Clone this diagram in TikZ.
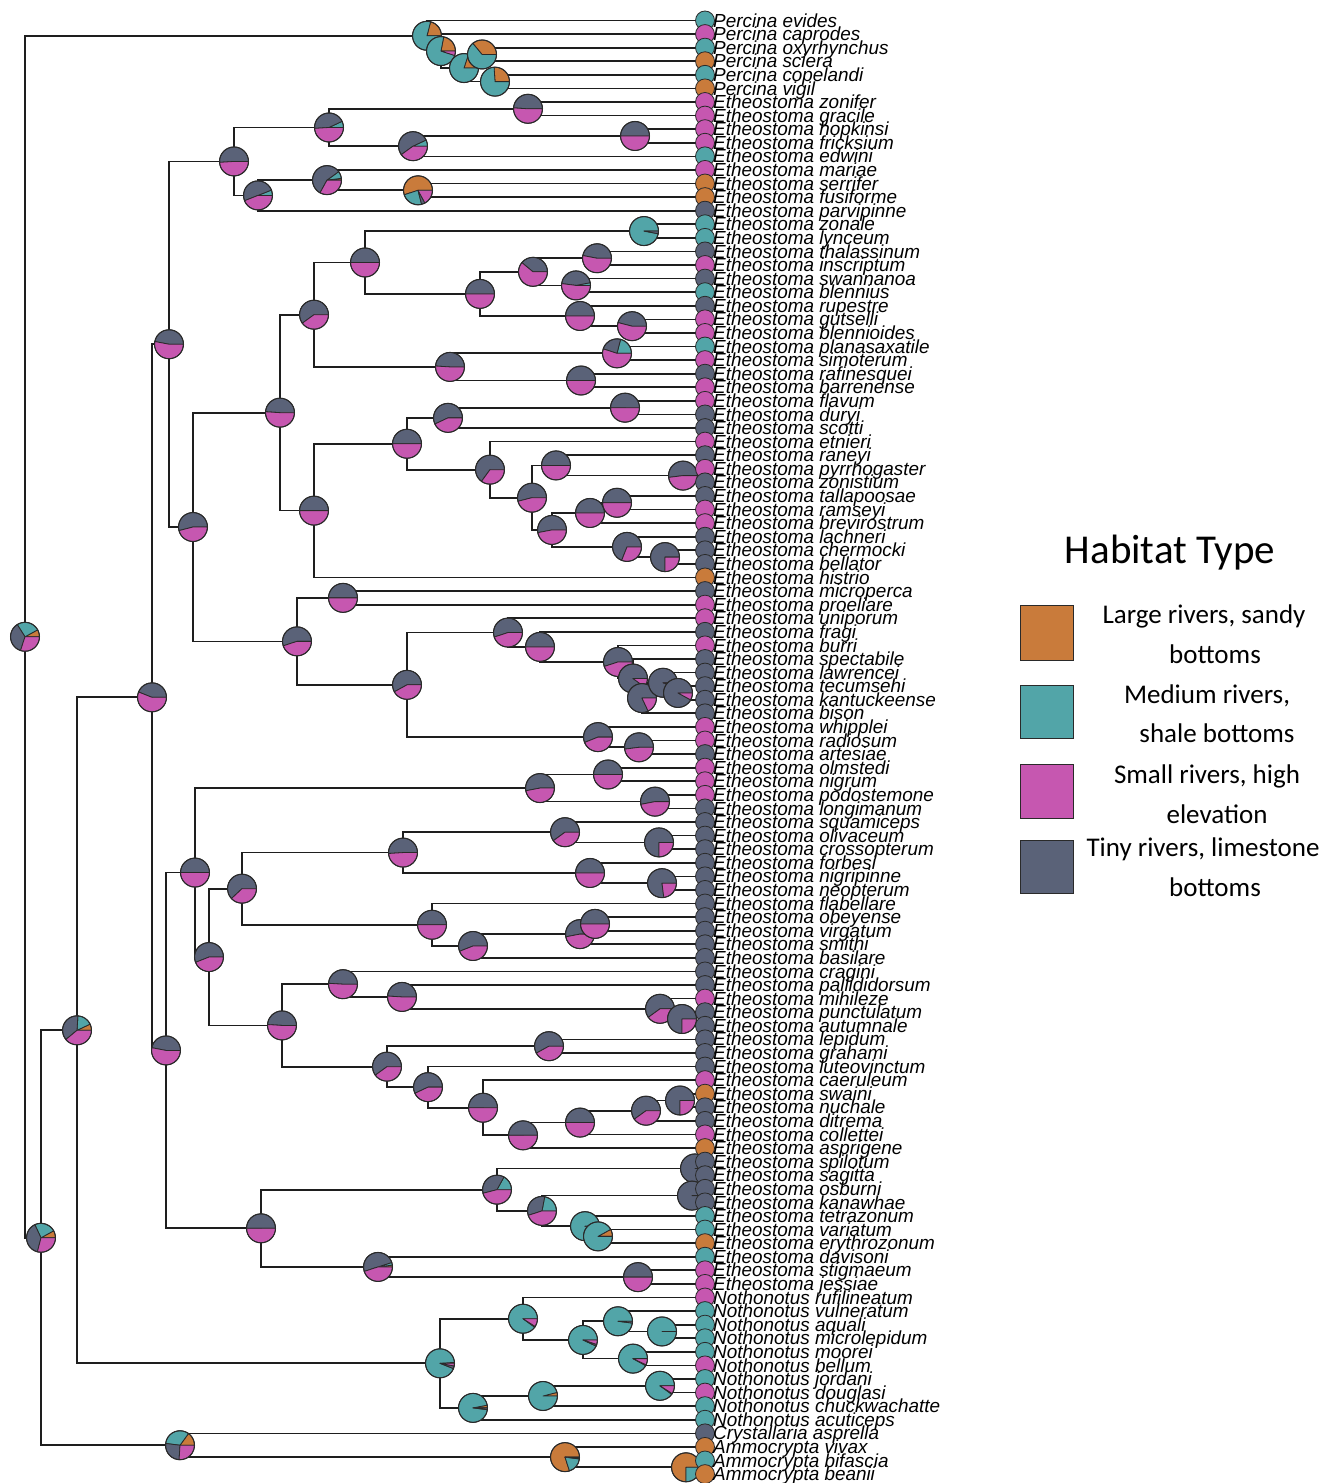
\documentclass[tikz,border=0pt]{standalone}
\usepackage{fontspec}
\setmainfont{Liberation Sans}
\newfontfamily\legfont{Carlito}
\definecolor{cO}{HTML}{C97B3B}
\definecolor{cT}{HTML}{52A5A8}
\definecolor{cM}{HTML}{C657B0}
\definecolor{cS}{HTML}{5A6278}
\definecolor{pieline}{HTML}{2A2A2A}
\definecolor{brc}{HTML}{1E1E1E}
\tikzset{branch/.style={draw=brc, line width=1.7pt},
  tiplab/.style={anchor=base west, inner sep=0pt, font=\fontsize{18.9}{20}\selectfont\itshape},
  legtext/.style={inner sep=0pt, font=\legfont\fontsize{27}{32}\selectfont},
  swatch/.style={draw=pieline, line width=1pt}}
\newcommand\br[4]{%
  \path (#3) -- (#4) coordinate[pos=0.5] (#1-mid);
  \coordinate (#1) at (#2,0 |- #1-mid);
  \draw[branch] (#3) -| (#1) |- (#4);}
\newcommand\slice[5]{\filldraw[fill=#5, draw=pieline, line width=0.8pt, line join=round] (#1) -- ++(#3:#2pt) arc[start angle=#3, end angle=#4, radius=#2pt] -- cycle;}
\newcommand\piechart[5]{%
  \pgfmathsetmacro\pieA{3.6*#3}%
  \pgfmathsetmacro\pieB{\pieA+3.6*#4}%
  \pgfmathsetmacro\pieC{\pieB+3.6*#5}%
  \ifdim #3pt>0pt \slice{#1}{#2}{0}{\pieA}{cO}\fi
  \ifdim #4pt>0pt \slice{#1}{#2}{\pieA}{\pieB}{cT}\fi
  \ifdim #5pt>0pt \slice{#1}{#2}{\pieB}{\pieC}{cS}\fi
  \ifdim \pieC pt<359.9pt \slice{#1}{#2}{\pieC}{360}{cM}\fi
  \draw[pieline, line width=1pt] (#1) circle[radius=#2pt];}
\newcommand\pp[4]{\piechart{#1}{14.5}{#2}{#3}{#4}}
\begin{document}
\begin{tikzpicture}[x=1pt,y=-1pt]
\useasboundingbox (0,0) rectangle (1329,1483);
\fill[white] (0,0) rectangle (1329,1483);
% tips
\foreach \ti in {1,...,108}{\coordinate (t\ti) at (705,{20.5+(\ti-1)*13.585});}
% Percina
\br{p3}{482}{t3}{t4}
\br{p4}{495}{t5}{t6}
\br{p2}{464}{p3}{p4}
\br{p1}{441}{t2}{p2}
\br{p0}{427}{t1}{p1}
% G / H
\br{g1}{528}{t7}{t8}
\br{g2}{635}{t9}{t10}
\br{g3}{413}{g2}{t11}
\br{g}{329}{g1}{g3}
\br{h2}{418}{t13}{t14}
\br{h1}{327}{t12}{h2}
\br{h}{258}{h1}{t15}
\br{f}{234}{g}{h}
% L / K
\br{l1}{644}{t16}{t17}
\br{n1}{597}{t18}{t19}
\br{n2}{576}{t20}{t21}
\br{n}{533}{n1}{n2}
\br{o1}{632}{t23}{t24}
\br{o}{580}{t22}{o1}
\br{m}{480}{n}{o}
\br{l}{365}{l1}{m}
\br{p5}{617}{t25}{t26}
\br{p6}{581}{t27}{t28}
\br{pp}{450}{p5}{p6}
\br{k}{314}{l}{pp}
% R / Q
\br{r1}{625}{t29}{t30}
\br{r2}{448}{r1}{t31}
\br{s1}{683}{t34}{t35}
\br{s2}{556}{t33}{s1}
\br{s3}{617}{t36}{t37}
\br{s4}{590}{s3}{t38}
\br{s5}{665}{t40}{t41}
\br{s6}{627}{t39}{s5}
\br{s7}{552}{s4}{s6}
\br{tt}{532}{s2}{s7}
\br{s}{490}{t32}{tt}
\br{r}{407}{r2}{s}
\br{q}{314}{r}{t42}
\br{j}{280}{k}{q}
% U
\br{u1}{343}{t43}{t44}
\br{z1}{678}{t50}{t51}
\br{z2}{663}{t49}{z1}
\br{z3}{642}{z2}{t52}
\br{z4}{633}{t48}{z3}
\br{yy}{618}{t47}{z4}
\br{xx}{540}{t46}{yy}
\br{w}{508}{t45}{xx}
\br{v1}{639}{t54}{t55}
\br{v2}{598}{t53}{v1}
\br{v}{407}{w}{v2}
\br{u}{297}{u1}{v}
\br{i}{193}{j}{u}
\br{d}{169}{f}{i}
% E
\br{e2a}{608}{t56}{t57}
\br{e2b}{655}{t58}{t59}
\br{e2}{540}{e2a}{e2b}
\br{e4a}{659}{t61}{t62}
\br{e4b}{565}{t60}{e4a}
\br{e4c}{662}{t64}{t65}
\br{e4d}{590}{t63}{e4c}
\br{e4e}{403}{e4b}{e4d}
\br{e4f}{595}{t67}{t68}
\br{e4g}{580}{e4f}{t69}
\br{e4h}{473}{e4g}{t70}
\br{e4i}{432}{t66}{e4h}
\br{e4}{242}{e4e}{e4i}
\br{e5a}{682}{t74}{t75}
\br{e5b}{660}{t73}{e5a}
\br{e5c}{402}{t72}{e5b}
\br{e5d}{343}{t71}{e5c}
\br{e5e}{549}{t76}{t77}
\br{e5f}{680}{t80}{t81}
\br{e5g}{646}{e5f}{t82}
\br{e5h}{580}{e5g}{t83}
\br{e5i}{523}{e5h}{t84}
\br{e5j}{483}{t79}{e5i}
\br{e5k}{428}{t78}{e5j}
\br{e5l}{387}{e5e}{e5k}
\br{e5}{282}{e5d}{e5l}
\br{e3}{209}{e4}{e5}
\br{e1}{195}{e2}{e3}
\br{e6a}{695}{t85}{t86}
\br{e6b}{692}{t87}{t88}
\br{e6c}{598}{t90}{t91}
\br{e6d}{585}{t89}{e6c}
\br{e6e}{542}{e6b}{e6d}
\br{e6f}{497}{e6a}{e6e}
\br{e6g}{638}{t93}{t94}
\br{e6h}{378}{t92}{e6g}
\br{e6}{261}{e6f}{e6h}
\br{e}{166}{e1}{e6}
\br{c}{152}{d}{e}
% Nothonotus
\br{n5}{662}{t97}{t98}
\br{n3}{618}{t96}{n5}
\br{n4}{633}{t99}{t100}
\br{nn2}{583}{n3}{n4}
\br{nn1}{523}{t95}{nn2}
\br{n8}{660}{t101}{t102}
\br{n7}{543}{n8}{t103}
\br{n6}{473}{n7}{t104}
\br{no}{440}{nn1}{n6}
\br{b}{77}{c}{no}
% Ammocrypta
\br{a3}{686}{t107}{t108}
\br{a2}{565}{t106}{a3}
\br{a1}{180}{t105}{a2}
\br{rb}{41}{b}{a1}
\br{root}{25}{p0}{rb}
% pies (parents first)
\pp{root}{8}{26}{36}
\pp{p0}{21}{79}{0}
\pp{p1}{22}{73}{0}
\pp{p2}{20}{80}{0}
\pp{p3}{36}{64}{0}
\pp{p4}{26}{74}{0}
\pp{rb}{8}{24}{39}
\pp{b}{7}{17}{37}
\pp{c}{0}{0}{44}
\pp{d}{0}{0}{47}
\pp{f}{0}{0}{51}
\pp{g}{0}{7}{44}
\pp{g1}{0}{0}{49}
\pp{g3}{0}{7}{53}
\pp{g2}{0}{0}{50}
\pp{h}{0}{6}{50}
\pp{h1}{2}{8}{57}
\pp{h2}{55}{24}{4}
\pp{i}{0}{0}{54}
\pp{j}{0}{0}{49}
\pp{k}{0}{0}{60}
\pp{l}{0}{0}{50}
\pp{l1}{0}{97}{3}
\pp{m}{0}{0}{50}
\pp{n}{0}{0}{39}
\pp{n1}{0}{0}{47}
\pp{n2}{0}{3}{45}
\pp{o}{0}{0}{50}
\pp{o1}{0}{0}{46}
\pp{pp}{0}{0}{49}
\pp{p5}{0}{21}{24}
\pp{p6}{0}{0}{50}
\pp{q}{0}{0}{50}
\pp{r}{0}{0}{50}
\pp{r2}{0}{0}{57}
\pp{r1}{0}{0}{50}
\pp{s}{0}{0}{65}
\pp{tt}{0}{0}{54}
\pp{s2}{0}{0}{50}
\pp{s1}{0}{0}{52}
\pp{s7}{0}{0}{53}
\pp{s4}{0}{0}{50}
\pp{s3}{0}{0}{50}
\pp{s6}{0}{0}{69}
\pp{s5}{0}{0}{75}
\pp{u}{0}{0}{55}
\pp{u1}{0}{0}{50}
\pp{v}{0}{0}{58}
\pp{w}{0}{0}{55}
\pp{xx}{0}{0}{50}
\pp{yy}{0}{0}{55}
\pp{z4}{0}{0}{90}
\pp{z3}{0}{0}{82}
\pp{z2}{0}{0}{95}
\pp{z1}{0}{0}{92}
\pp{v2}{0}{0}{56}
\pp{v1}{0}{0}{52}
\pp{e}{0}{0}{47}
\pp{e1}{0}{0}{50}
\pp{e2}{0}{0}{53}
\pp{e2a}{0}{0}{50}
\pp{e2b}{0}{0}{53}
\pp{e3}{0}{0}{56}
\pp{e4}{0}{0}{62}
\pp{e4e}{0}{0}{51}
\pp{e4b}{0}{0}{60}
\pp{e4a}{0}{0}{75}
\pp{e4d}{0}{0}{50}
\pp{e4c}{0}{0}{77}
\pp{e4i}{0}{0}{50}
\pp{e4h}{0}{0}{56}
\pp{e4g}{0}{0}{53}
\pp{e4f}{0}{0}{50}
\pp{e5}{0}{0}{49}
\pp{e5d}{0}{0}{49}
\pp{e5c}{0}{0}{49}
\pp{e5b}{0}{0}{60}
\pp{e5a}{0}{0}{75}
\pp{e5l}{0}{0}{60}
\pp{e5e}{0}{0}{58}
\pp{e5k}{0}{0}{57}
\pp{e5j}{0}{0}{50}
\pp{e5i}{0}{0}{50}
\pp{e5h}{0}{0}{50}
\pp{e5g}{0}{0}{60}
\pp{e5f}{0}{0}{75}
\pp{e6}{0}{0}{50}
\pp{e6f}{0}{17}{37}
\pp{e6a}{0}{0}{100}
\pp{e6e}{0}{22}{33}
\pp{e6b}{0}{0}{100}
\pp{e6d}{0}{98}{1}
\pp{e6c}{8}{92}{0}
\pp{e6h}{2}{3}{50}
\pp{e6g}{0}{0}{50}
\pp{no}{1}{93}{3}
\pp{nn1}{0}{90}{1}
\pp{nn2}{0}{93}{2}
\pp{n3}{0}{98}{2}
\pp{n5}{0}{100}{0}
\pp{n4}{0}{92}{1}
\pp{n6}{3}{95}{2}
\pp{n7}{4}{96}{0}
\pp{n8}{0}{90}{1}
\pp{a1}{15}{33}{26}
\pp{a2}{80}{18}{1}
\pp{a3}{75}{25}{0}
% tip circles
\foreach \ti/\tc in {1/T,2/M,3/T,4/O,5/T,6/O,7/M,8/M,9/M,10/M,11/T,12/M,13/O,14/O,15/S,16/T,17/T,18/S,19/M,20/S,21/T,22/S,23/M,24/M,25/T,26/M,27/S,28/M,29/M,30/S,31/S,32/M,33/S,34/M,35/S,36/S,37/M,38/M,39/S,40/S,41/S,42/O,43/S,44/M,45/M,46/S,47/M,48/S,49/S,50/S,51/S,52/S,53/M,54/M,55/S,56/M,57/M,58/M,59/S,60/S,61/S,62/S,63/S,64/S,65/S,66/S,67/S,68/S,69/S,70/S,71/S,72/S,73/M,74/S,75/S,76/S,77/S,78/S,79/M,80/O,81/S,82/S,83/M,84/O,85/S,86/S,87/S,88/S,89/T,90/T,91/O,92/T,93/M,94/M,95/M,96/T,97/T,98/T,99/T,100/M,101/T,102/M,103/T,104/T,105/S,106/O,107/T,108/O}{
  \filldraw[fill=c\tc, draw=pieline, line width=0.8pt] (t\ti) circle[radius=9.5pt];
}
% tip labels
\foreach \ti/\tn in {1/Percina evides,2/Percina caprodes,3/Percina oxyrhynchus,4/Percina sciera,5/Percina copelandi,6/Percina vigil,7/Etheostoma zonifer,8/Etheostoma gracile,9/Etheostoma hopkinsi,10/Etheostoma fricksium,11/Etheostoma edwini,12/Etheostoma mariae,13/Etheostoma serrifer,14/Etheostoma fusiforme,15/Etheostoma parvipinne,16/Etheostoma zonale,17/Etheostoma lynceum,18/Etheostoma thalassinum,19/Etheostoma inscriptum,20/Etheostoma swannanoa,21/Etheostoma blennius,22/Etheostoma rupestre,23/Etheostoma gutselli,24/Etheostoma blennioides,25/Etheostoma planasaxatile,26/Etheostoma simoterum,27/Etheostoma rafinesquei,28/Etheostoma barrenense,29/Etheostoma flavum,30/Etheostoma duryi,31/Etheostoma scotti,32/Etheostoma etnieri,33/Etheostoma raneyi,34/Etheostoma pyrrhogaster,35/Etheostoma zonistium,36/Etheostoma tallapoosae,37/Etheostoma ramseyi,38/Etheostoma brevirostrum,39/Etheostoma lachneri,40/Etheostoma chermocki,41/Etheostoma bellator,42/Etheostoma histrio,43/Etheostoma microperca,44/Etheostoma proeliare,45/Etheostoma uniporum,46/Etheostoma fragi,47/Etheostoma burri,48/Etheostoma spectabile,49/Etheostoma lawrencei,50/Etheostoma tecumsehi,51/Etheostoma kantuckeense,52/Etheostoma bison,53/Etheostoma whipplei,54/Etheostoma radiosum,55/Etheostoma artesiae,56/Etheostoma olmstedi,57/Etheostoma nigrum,58/Etheostoma podostemone,59/Etheostoma longimanum,60/Etheostoma squamiceps,61/Etheostoma olivaceum,62/Etheostoma crossopterum,63/Etheostoma forbesi,64/Etheostoma nigripinne,65/Etheostoma neopterum,66/Etheostoma flabellare,67/Etheostoma obeyense,68/Etheostoma virgatum,69/Etheostoma smithi,70/Etheostoma basilare,71/Etheostoma cragini,72/Etheostoma pallididorsum,73/Etheostoma mihileze,74/Etheostoma punctulatum,75/Etheostoma autumnale,76/Etheostoma lepidum,77/Etheostoma grahami,78/Etheostoma luteovinctum,79/Etheostoma caeruleum,80/Etheostoma swaini,81/Etheostoma nuchale,82/Etheostoma ditrema,83/Etheostoma collettei,84/Etheostoma asprigene,85/Etheostoma spilotum,86/Etheostoma sagitta,87/Etheostoma osburni,88/Etheostoma kanawhae,89/Etheostoma tetrazonum,90/Etheostoma variatum,91/Etheostoma erythrozonum,92/Etheostoma davisoni,93/Etheostoma stigmaeum,94/Etheostoma jessiae,95/Nothonotus rufilineatum,96/Nothonotus vulneratum,97/Nothonotus aquali,98/Nothonotus microlepidum,99/Nothonotus moorei,100/Nothonotus bellum,101/Nothonotus jordani,102/Nothonotus douglasi,103/Nothonotus chuckwachatte,104/Nothonotus acuticeps,105/Crystallaria asprella,106/Ammocrypta vivax,107/Ammocrypta bifascia,108/Ammocrypta beanii}{
  \node[tiplab] (lab\ti) at (713,{20.5+(\ti-1)*13.585+6.6}) {\tn};
}
% legend
\node[inner sep=0pt, font=\legfont\fontsize{41}{48}\selectfont] (legtitle) at (1170,553) {Habitat Type};
\filldraw[fill=cO, swatch] (1020,605) rectangle (1073,660);
\filldraw[fill=cT, swatch] (1020,685) rectangle (1073,738);
\filldraw[fill=cM, swatch] (1020,764) rectangle (1073,818);
\filldraw[fill=cS, swatch] (1020,840) rectangle (1073,893);
\node[legtext] (lg1a) at (1204,616) {Large rivers, sandy};
\node[legtext] (lg1b) at (1215,654) {bottoms};
\node[legtext] (lg2a) at (1207,696) {Medium rivers,};
\node[legtext] (lg2b) at (1217,733) {shale bottoms};
\node[legtext] (lg3a) at (1207,776) {Small rivers, high};
\node[legtext] (lg3b) at (1217,814) {elevation};
\node[legtext] (lg4a) at (1203,849) {Tiny rivers, limestone};
\node[legtext] (lg4b) at (1215,887) {bottoms};
\end{tikzpicture}
\end{document}
